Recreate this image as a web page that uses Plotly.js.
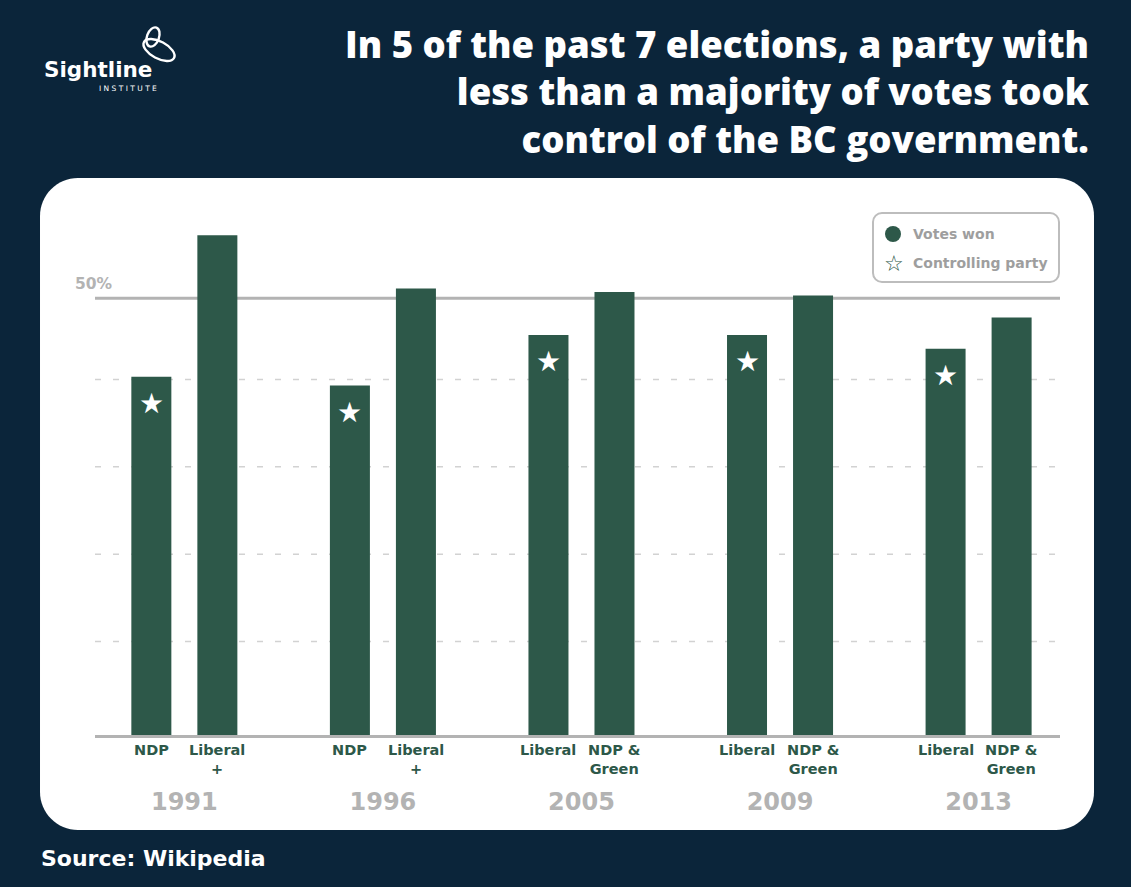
<!DOCTYPE html>
<html>
<head>
<meta charset="utf-8">
<script src="https://cdn.plot.ly/plotly-3.0.1.min.js"></script>
<style>
  html, body { margin: 0; padding: 0; background: #0b253a; }
  #chart { width: 1131px; height: 887px; }
</style>
</head>
<body>
<div id="chart"></div>
<script>
// ---------------- DATA ----------------
const years = ['1991', '1996', '2005', '2009', '2013'];
const firstParty = ['NDP', 'NDP', 'Liberal', 'Liberal', 'Liberal'];
const secondParty = ['Liberal<br>+', 'Liberal<br>+', 'NDP &<br>Green', 'NDP &<br>Green', 'NDP &<br>Green'];
const firstVotes = [41.0, 40.0, 45.8, 45.8, 44.2];
const secondVotes = [57.2, 51.1, 50.7, 50.3, 47.8];
const controlling = [0, 0, 0, 0, 0]; // 0 = first bar of the pair, 1 = second
const gridLevels = [10.7, 20.7, 30.7, 40.7];
const majority = 50;
const titleLines = ['In 5 of the past 7 elections, a party with',
                    'less than a majority of votes took',
                    'control of the BC government.'];
const legendLabels = ['Votes won', 'Controlling party'];
const sourceText = 'Source: Wikipedia';

// ---------------- STYLE / LAYOUT HELPERS ----------------
const NAVY = '#0b253a';
const GREEN = '#2d5849';
const GRAY = '#b3b3b3';
const TFONT = 'Open Sans, sans-serif';
const FONT = 'DejaVu Sans, sans-serif';

const W = 1131, H = 887;
const L = 95, R = 1060, T = 200, B = 735;
const px = x => (x - L) / (R - L);
const py = y => (B - y) / (B - T);
const pxPerPct = 8.736;
const yMax = (B - T) / pxPerPct;

function roundRect(x0, y0, x1, y1, r) {
  const k = 0.5523 * r;
  const P = (x, y) => px(x).toFixed(5) + ',' + py(y).toFixed(5);
  return 'M' + P(x0 + r, y0) +
    ' L' + P(x1 - r, y0) +
    ' C' + P(x1 - r + k, y0) + ' ' + P(x1, y0 + r - k) + ' ' + P(x1, y0 + r) +
    ' L' + P(x1, y1 - r) +
    ' C' + P(x1, y1 - r + k) + ' ' + P(x1 - r + k, y1) + ' ' + P(x1 - r, y1) +
    ' L' + P(x0 + r, y1) +
    ' C' + P(x0 + r - k, y1) + ' ' + P(x0, y1 - r + k) + ' ' + P(x0, y1 - r) +
    ' L' + P(x0, y0 + r) +
    ' C' + P(x0, y0 + r - k) + ' ' + P(x0 + r - k, y0) + ' ' + P(x0 + r, y0) + ' Z';
}

function ellipsePath(cx, cy, rx, ry, rotDeg) {
  const a = rotDeg * Math.PI / 180, k = 0.5523;
  const pt = (u, v) => {
    const X = cx + u * Math.cos(a) - v * Math.sin(a);
    const Y = cy + u * Math.sin(a) + v * Math.cos(a);
    return px(X).toFixed(5) + ',' + py(Y).toFixed(5);
  };
  return 'M' + pt(rx, 0) +
    ' C' + pt(rx, k * ry) + ' ' + pt(k * rx, ry) + ' ' + pt(0, ry) +
    ' C' + pt(-k * rx, ry) + ' ' + pt(-rx, k * ry) + ' ' + pt(-rx, 0) +
    ' C' + pt(-rx, -k * ry) + ' ' + pt(-k * rx, -ry) + ' ' + pt(0, -ry) +
    ' C' + pt(k * rx, -ry) + ' ' + pt(rx, -k * ry) + ' ' + pt(rx, 0) + ' Z';
}

// ---------------- TRACES ----------------
const traces = [
  { type: 'bar', x: years, y: firstVotes, marker: { color: GREEN }, hoverinfo: 'skip', showlegend: false },
  { type: 'bar', x: years, y: secondVotes, marker: { color: GREEN }, hoverinfo: 'skip', showlegend: false }
];

// ---------------- SHAPES ----------------
const shapes = [];
shapes.push({ type: 'path', xref: 'paper', yref: 'paper', layer: 'below',
  path: roundRect(40, 178, 1094, 830, 38), fillcolor: '#ffffff', line: { width: 0 } });
gridLevels.forEach(g => shapes.push({ type: 'line', xref: 'paper', yref: 'y', layer: 'below',
  x0: 0, x1: 1, y0: g, y1: g, line: { color: '#d2d2d2', width: 1.5, dash: '6px,12px' } }));
shapes.push({ type: 'line', xref: 'paper', yref: 'y', layer: 'below',
  x0: 0, x1: 1, y0: majority, y1: majority, line: { color: GRAY, width: 3 } });
// legend box
shapes.push({ type: 'path', xref: 'paper', yref: 'paper', layer: 'above',
  path: roundRect(873, 213, 1059, 282, 9), fillcolor: '#ffffff', line: { color: '#bdbdbd', width: 2 } });
shapes.push({ type: 'circle', xref: 'paper', yref: 'paper', layer: 'above',
  x0: px(885), x1: px(901), y0: py(226), y1: py(242), fillcolor: GREEN, line: { width: 0 } });
// logo icon
shapes.push({ type: 'path', xref: 'paper', yref: 'paper', layer: 'above',
  path: ellipsePath(153, 37, 6, 10, 20), line: { color: '#ffffff', width: 2.4 } });
shapes.push({ type: 'path', xref: 'paper', yref: 'paper', layer: 'above',
  path: ellipsePath(159, 50, 17, 8.5, 28), line: { color: '#ffffff', width: 2.4 } });

// ---------------- ANNOTATIONS ----------------
const ann = [];
ann.push({ xref: 'paper', yref: 'paper', x: px(1092), y: py(91),
  xanchor: 'right', yanchor: 'middle', align: 'right', showarrow: false, text: titleLines.join('<br>'),
  font: { family: TFONT, size: 36.5, color: '#ffffff', weight: 800 } });
ann.push({ xref: 'paper', yref: 'paper', x: px(42), y: py(70), xanchor: 'left', yanchor: 'middle',
  showarrow: false, text: '<b>Sightline</b>', font: { family: FONT, size: 21.5, color: '#ffffff' } });
ann.push({ xref: 'paper', yref: 'paper', x: px(159), y: py(89), xanchor: 'right', yanchor: 'middle',
  showarrow: false, text: 'I N S T I T U T E', font: { family: FONT, size: 7.5, color: '#ffffff' } });
ann.push({ xref: 'paper', yref: 'y', x: px(73), y: majority, yshift: 14, xanchor: 'left', yanchor: 'middle',
  showarrow: false, text: '<b>' + majority + '%</b>', font: { family: FONT, size: 15.5, color: GRAY } });

years.forEach((yr, i) => {
  // category axis: annotation x given as the category index
  ann.push({ xref: 'x', yref: 'y', x: i, y: 0, xshift: -33, yshift: -5, yanchor: 'top', xanchor: 'center',
    showarrow: false, text: '<b>' + firstParty[i] + '</b>', font: { family: FONT, size: 14.5, color: GREEN } });
  ann.push({ xref: 'x', yref: 'y', x: i, y: 0, xshift: 33, yshift: -5, yanchor: 'top', xanchor: 'center',
    showarrow: false, text: '<b>' + secondParty[i] + '</b>', font: { family: FONT, size: 14.5, color: GREEN } });
  const v = controlling[i] === 0 ? firstVotes[i] : secondVotes[i];
  ann.push({ xref: 'x', yref: 'y', x: i, y: v, xshift: controlling[i] === 0 ? -33 : 33, yshift: -27,
    xanchor: 'center', yanchor: 'middle', showarrow: false, text: '★',
    font: { family: 'DejaVu Sans', size: 28, color: '#ffffff' } });
});

ann.push({ xref: 'paper', yref: 'paper', x: px(911), y: py(234), xanchor: 'left', yanchor: 'middle',
  showarrow: false, text: '<b>' + legendLabels[0] + '</b>', font: { family: FONT, size: 14, color: '#9e9e9e' } });
ann.push({ xref: 'paper', yref: 'paper', x: px(894), y: py(263), xanchor: 'center', yanchor: 'middle',
  showarrow: false, text: '☆', font: { family: 'DejaVu Sans', size: 22, color: GREEN } });
ann.push({ xref: 'paper', yref: 'paper', x: px(911), y: py(263), xanchor: 'left', yanchor: 'middle',
  showarrow: false, text: '<b>' + legendLabels[1] + '</b>', font: { family: FONT, size: 14, color: '#9e9e9e' } });
ann.push({ xref: 'paper', yref: 'paper', x: px(39), y: py(858), xanchor: 'left', yanchor: 'middle',
  showarrow: false, text: '<b>' + sourceText + '</b>', font: { family: FONT, size: 22, color: '#ffffff' } });

// ---------------- LAYOUT ----------------
const layout = {
  width: W, height: H,
  margin: { l: L, r: W - R, t: T, b: H - B, pad: 0 },
  paper_bgcolor: NAVY,
  plot_bgcolor: 'rgba(0,0,0,0)',
  barmode: 'group',
  bargap: 0.335,
  bargroupgap: 0.394,
  showlegend: false,
  xaxis: {
    type: 'category', range: [-0.45, 4.41], fixedrange: true,
    showgrid: false, zeroline: false,
    showline: true, linecolor: GRAY, linewidth: 3,
    ticks: '', tickvals: years, ticktext: years,
    tickfont: { family: FONT, size: 24, color: GRAY, weight: 700 },
    ticklabelstandoff: 43
  },
  yaxis: {
    range: [0, yMax], fixedrange: true,
    showgrid: false, zeroline: false, showline: false, showticklabels: false, ticks: ''
  },
  shapes: shapes,
  annotations: ann
};

Plotly.newPlot('chart', traces, layout, { displayModeBar: false, staticPlot: true });
</script>
</body>
</html>
